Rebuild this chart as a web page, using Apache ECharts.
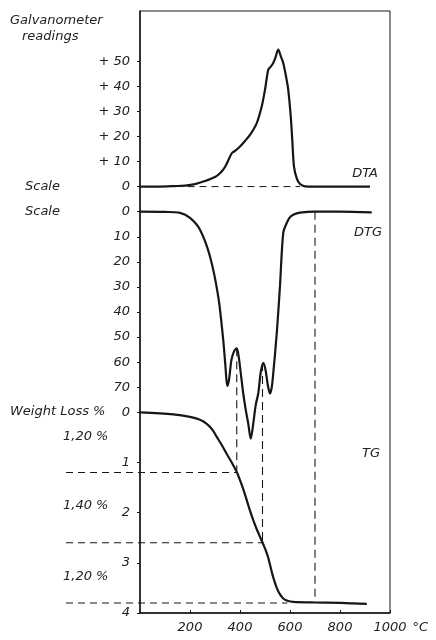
<!DOCTYPE html>
<html><head><meta charset="utf-8">
<script src="https://cdn.jsdelivr.net/npm/echarts@6/dist/echarts.min.js"></script>
<style>html,body{margin:0;padding:0;background:#fff}#c{width:436px;height:640px}</style>
</head><body><div id="c"></div>
<script>
// ---- data ----
const xTicks = [200, 400, 600, 800, 1000];
const dtaTicks = [0, 10, 20, 30, 40, 50];
const dtgTicks = [0, 10, 20, 30, 40, 50, 60, 70];
const tgTicks = [0, 1, 2, 3, 4];

const dtaT = [0, 80, 140, 180, 220, 260, 300, 320, 340, 367, 380, 400, 420, 440, 467, 487, 500, 513, 523, 533, 543, 553, 563, 573, 583, 593, 603, 609, 616, 627, 640, 660, 700, 800, 920];
const dtaV = [0, 0, 0.2, 0.4, 1.0, 2.2, 3.8, 5.3, 7.8, 13.3, 14.2, 16.0, 18.2, 20.6, 25.3, 32.0, 38.6, 46.6, 47.8, 49.3, 51.8, 54.6, 52.0, 49.3, 44.5, 38.6, 28.0, 18.6, 8.0, 3.3, 1.0, 0.1, 0, 0, 0];

const dtgT = [0, 100, 160, 200, 240, 280, 313, 333, 342, 349, 356, 366, 377, 387, 395, 405, 413, 423, 433, 443, 453, 463, 473, 483, 493, 502, 511, 520, 527, 533, 547, 560, 573, 587, 600, 613, 640, 700, 800, 927];
const dtgV = [0, 0.1, 0.5, 2.5, 7.2, 17.9, 33.9, 51.2, 62, 69.5, 67, 59, 55.5, 54.5, 58, 66, 72.5, 79, 84.5, 90.5, 84.5, 77, 72.5, 64, 60.3, 63, 69, 72.5, 70, 64.5, 48.5, 29.5, 8.5, 4.5, 2.2, 1.2, 0.4, 0, 0, 0.3];

const tgT = [0, 133, 200, 240, 267, 290, 307, 327, 347, 367, 387, 400, 413, 427, 440, 453, 467, 480, 493, 503, 513, 523, 533, 547, 560, 573, 587, 613, 693, 800, 907];
const tgV = [0, 0.04, 0.09, 0.15, 0.23, 0.35, 0.49, 0.65, 0.83, 1.0, 1.19, 1.35, 1.53, 1.75, 1.96, 2.15, 2.33, 2.48, 2.63, 2.75, 2.9, 3.1, 3.29, 3.5, 3.63, 3.71, 3.75, 3.78, 3.79, 3.8, 3.82];

const dtaBaseT = [190, 640];
const guideLevels = [1.2, 2.6, 3.8];      // TG weight-loss steps
const guideStartT = -296;                  // dashed leaders start left of the axis
const guideEndT = [387, 490, 590];
const vGuideT = [387, 490, 700];
const vGuideTopDtg = [54.5, 60.3, 0];
const stepTexts = ['1,20 %', '1,40 %', '1,20 %'];

// axis ranges
const xRange = [0, 1000];
const dtaRange = [-170, 70], dtgRange = [-80, 160], tgRange = [-8, 4];
function tgToDtg(t) {
  return dtgRange[0] + (t - tgRange[0]) * (dtgRange[1] - dtgRange[0]) / (tgRange[1] - tgRange[0]);
}
const zip = (a, b) => a.map((v, i) => [v, b[i]]);

const FONT = 'DejaVu Sans';
const INK = '#161616';
const labelStyle = { fontFamily: FONT, fontStyle: 'italic', fontSize: 13, color: '#222' };

const GRID_LEFT = 140, GRID_RIGHT = 46, GRID_TOP = 11, GRID_BOTTOM = 27;
// the leader grid extends left so that x = guideStartT lands at its left edge (same px per degree)
const pxPerDeg = (436 - GRID_LEFT - GRID_RIGHT) / (xRange[1] - xRange[0]);
const leaderLeft = GRID_LEFT + guideStartT * pxPerDeg;

function yAx(range, ticks, inverse, fmt, showLine) {
  return {
    type: 'value', gridIndex: 0, min: range[0], max: range[1], inverse: inverse, position: 'left',
    axisLine: { show: showLine, onZero: false, lineStyle: { color: INK, width: 1.5 } },
    axisTick: { show: true, length: 3, customValues: ticks, lineStyle: { color: INK } },
    axisLabel: Object.assign({ customValues: ticks, margin: 10, formatter: fmt }, labelStyle),
    splitLine: { show: false }
  };
}

const lineBase = { type: 'line', symbol: 'none', silent: true };
const series = [
  Object.assign({}, lineBase, { name: 'DTA', xAxisIndex: 0, yAxisIndex: 0, smooth: 0.3, data: zip(dtaT, dtaV), lineStyle: { color: INK, width: 2.2 }, z: 5 }),
  Object.assign({}, lineBase, { name: 'DTG', xAxisIndex: 0, yAxisIndex: 1, smooth: 0.3, data: zip(dtgT, dtgV), lineStyle: { color: INK, width: 2.2 }, z: 5 }),
  Object.assign({}, lineBase, { name: 'TG', xAxisIndex: 0, yAxisIndex: 2, smooth: 0.3, data: zip(tgT, tgV), lineStyle: { color: INK, width: 2.2 }, z: 5 }),
  Object.assign({}, lineBase, { xAxisIndex: 0, yAxisIndex: 0, data: dtaBaseT.map(t => [t, 0]), lineStyle: { color: INK, width: 1, type: [7, 5] } })
];
guideLevels.forEach((lv, i) => {
  series.push(Object.assign({}, lineBase, { xAxisIndex: 1, yAxisIndex: 3, data: [[guideStartT, lv], [guideEndT[i], lv]], lineStyle: { color: INK, width: 1.1, type: [7, 5] } }));
  series.push(Object.assign({}, lineBase, { xAxisIndex: 0, yAxisIndex: 1, data: [[vGuideT[i], vGuideTopDtg[i]], [vGuideT[i], tgToDtg(lv)]], lineStyle: { color: INK, width: 1.1, type: [8, 5] } }));
});

const txt = (x, y, s, align) => ({ type: 'text', x: x, y: y, style: { text: s, font: 'italic 13px "' + FONT + '"', fill: '#222', textAlign: align || 'left', textVerticalAlign: 'middle' } });
const stepY = [437, 506, 577];
const graphic = [
  txt(10, 21, 'Galvanometer'),
  txt(22, 37, 'readings'),
  txt(25, 187, 'Scale'),
  txt(25, 212, 'Scale'),
  txt(10, 412, 'Weight Loss %'),
  txt(378, 174, 'DTA', 'right'),
  txt(382, 233, 'DTG', 'right'),
  txt(380, 454, 'TG', 'right')
].concat(stepTexts.map((s, i) => txt(63, stepY[i], s)));

const chart = echarts.init(document.getElementById('c'), null, { renderer: 'canvas' });
chart.setOption({
  animation: false,
  backgroundColor: '#fff',
  grid: [
    { left: GRID_LEFT, right: GRID_RIGHT, top: GRID_TOP, bottom: GRID_BOTTOM, show: true, borderColor: INK, borderWidth: 1 },
    { left: leaderLeft, right: GRID_RIGHT, top: GRID_TOP, bottom: GRID_BOTTOM, show: false }
  ],
  xAxis: [{
    type: 'value', gridIndex: 0, min: xRange[0], max: xRange[1],
    axisLine: { show: true, onZero: false, lineStyle: { color: INK, width: 1.5 } },
    axisTick: { show: true, inside: true, length: 3, customValues: xTicks, lineStyle: { color: INK } },
    axisLabel: Object.assign({ customValues: xTicks, margin: 8, formatter: v => String(v) }, labelStyle),
    splitLine: { show: false },
    name: '°C', nameLocation: 'end', nameGap: 12,
    nameTextStyle: Object.assign({ verticalAlign: 'top', align: 'left', padding: [8, 0, 0, 0] }, labelStyle)
  }, {
    type: 'value', gridIndex: 1, min: guideStartT, max: xRange[1], show: false
  }],
  yAxis: [
    yAx(dtaRange, dtaTicks, false, v => v === 0 ? '0' : '+ ' + v, true),
    yAx(dtgRange, dtgTicks, true, v => String(v), false),
    yAx(tgRange, tgTicks, true, v => String(v), false),
    { type: 'value', gridIndex: 1, min: tgRange[0], max: tgRange[1], inverse: true, show: false }
  ],
  series: series,
  graphic: graphic
});
</script></body></html>
